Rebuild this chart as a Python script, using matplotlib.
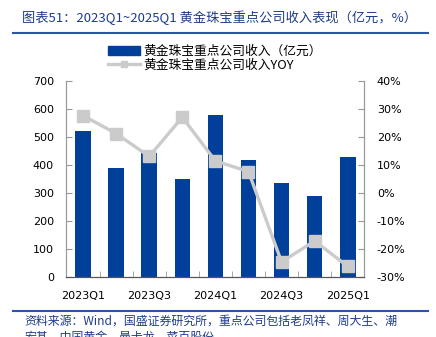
import matplotlib.pyplot as plt
import numpy as np
from matplotlib.lines import Line2D
from matplotlib.patches import Patch

plt.rcParams['font.family'] = ['DejaVu Sans', 'Noto Sans CJK SC']

quarters = ['2023Q1', '2023Q2', '2023Q3', '2023Q4', '2024Q1',
            '2024Q2', '2024Q3', '2024Q4', '2025Q1']
revenue = [521, 388, 444, 349, 580, 417, 335, 288, 430]          # 亿元
yoy = [27.7, 21.3, 13.1, 27.1, 11.5, 7.7, -24.6, -17.1, -26.2]   # %

bar_color = '#00409A'
line_color = '#CBCBCB'
text_blue = '#1F3C88'
cjk = ['Noto Sans CJK SC', 'DejaVu Sans']

fig = plt.figure(figsize=(4.36, 3.37), dpi=100)
ax = fig.add_axes([0.1525, 0.178, 0.683, 0.581])
x = np.arange(len(quarters))

ax.bar(x, revenue, width=0.47, color=bar_color, zorder=2)
ax.set_xlim(-0.5, len(quarters) - 0.5)
ax.set_ylim(0, 700)
ax.set_yticks(range(0, 701, 100))

ax2 = ax.twinx()
ax2.plot(x, yoy, color=line_color, lw=2.4, marker='s', markersize=8,
         markerfacecolor=line_color, markeredgecolor=line_color, zorder=3)
ax2.set_ylim(-30, 40)
ax2.set_yticks(range(-30, 41, 10))
ax2.set_yticklabels([f'{v}%' for v in range(-30, 41, 10)])

# x ticks: labels on every other quarter, tick marks at category borders
ax.set_xticks(x[::2])
ax.set_xticklabels(quarters[::2])
ax.set_xticks(np.arange(-0.5, len(quarters), 1), minor=True)
ax.tick_params(axis='x', which='major', length=0, pad=10, labelsize=8)
ax.tick_params(axis='x', which='minor', direction='in', length=4, color='#999999')
ax.tick_params(axis='y', direction='in', length=4, color='#999999', pad=9, labelsize=8)
ax2.tick_params(axis='y', direction='in', length=4, color='#999999', pad=9, labelsize=8)

for a in (ax, ax2):
    a.spines['top'].set_visible(False)
    a.spines['left'].set_color('#999999')
    a.spines['right'].set_color('#999999')
    a.spines['bottom'].set_color('#555555')

handles = [Patch(color=bar_color),
           Line2D([0], [0], color=line_color, lw=2.4, marker='s', markersize=4)]
labels = ['黄金珠宝重点公司收入（亿元）', '黄金珠宝重点公司收入YOY']
fig.legend(handles, labels, loc='upper left', bbox_to_anchor=(0.247, 0.867),
           frameon=False, prop={'family': cjk, 'size': 9.2}, handlelength=2.5,
           handletextpad=0.3, labelspacing=0.05, borderpad=0, borderaxespad=0)

# title and notes
fig.text(0.05, 0.947, '图表51：2023Q1~2025Q1 黄金珠宝重点公司收入表现（亿元，%）',
         family=cjk, fontsize=9.5, color=text_blue, style='italic', va='center')
fig.add_artist(Line2D([0.03, 0.982], [0.901, 0.901], color='#2A57A8', lw=1.5))
fig.add_artist(Line2D([0.03, 0.982], [0.078, 0.078], color='#2A57A8', lw=1.5))
fig.text(0.057, 0.065, '资料来源：Wind，国盛证券研究所，重点公司包括老凤祥、周大生、潮\n宏基、中国黄金、曼卡龙、菜百股份',
         family=cjk, fontsize=8.6, color=text_blue, style='italic', va='top',
         linespacing=1.25)

fig.savefig('out.png', dpi=100)
